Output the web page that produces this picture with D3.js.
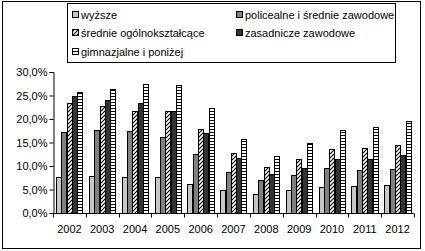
<!DOCTYPE html>
<html>
<head>
<meta charset="utf-8">
<script src="https://d3js.org/d3.v7.min.js"></script>
<style>
 body { margin: 0; background: white; }
 text { font-family: "Liberation Sans", Arial, sans-serif; font-size: 11px; fill: #000; }
</style>
</head>
<body>
<script>
// chart values
var years = ["2002","2003","2004","2005","2006","2007","2008","2009","2010","2011","2012"];
var seriesNames = ["wyższe", "policealne i średnie zawodowe", "średnie ogólnokształcące",
                   "zasadnicze zawodowe", "gimnazjalne i poniżej"];
var wyzsze      = [7.6, 7.9, 7.6, 7.6, 6.2, 5.0, 4.1, 4.8, 5.5, 5.7, 5.9];
var policealne  = [17.3, 17.7, 17.5, 16.2, 12.6, 8.8, 7.1, 8.0, 9.5, 9.1, 9.3];
var ogolne      = [23.5, 22.8, 21.8, 21.6, 17.9, 12.8, 9.7, 11.4, 13.7, 13.9, 14.5];
var zasadnicze  = [24.8, 24.1, 23.3, 21.8, 17.1, 11.8, 8.2, 9.5, 11.5, 11.5, 12.3];
var gimnazjalne = [25.7, 26.4, 27.5, 27.2, 22.4, 15.8, 12.2, 15.0, 17.7, 18.4, 19.6];
var yTicks = [0, 5, 10, 15, 20, 25, 30];

var series = [wyzsze, policealne, ogolne, zasadnicze, gimnazjalne];
var fills = ["#c6c6c6", "#808080", "url(#diag)", "#333333", "url(#hstripe)"];

var width = 425, height = 251;
var svg = d3.select("body").append("svg")
  .attr("width", width).attr("height", height);

var defs = svg.append("defs");
var diag = defs.append("pattern").attr("id", "diag")
  .attr("patternUnits", "userSpaceOnUse").attr("width", 4).attr("height", 4);
diag.append("rect").attr("width", 4).attr("height", 4).attr("fill", "white");
diag.append("path").attr("d", "M-1,1 l2,-2 M0,4 l4,-4 M3,5 l2,-2")
  .attr("stroke", "black").attr("stroke-width", 1.1);
var hs = defs.append("pattern").attr("id", "hstripe")
  .attr("patternUnits", "userSpaceOnUse").attr("width", 4).attr("height", 3);
hs.append("rect").attr("width", 4).attr("height", 3).attr("fill", "white");
hs.append("rect").attr("y", 0).attr("width", 4).attr("height", 1).attr("fill", "black");

// outer frame
svg.append("rect").attr("x", 2.5).attr("y", 1.5).attr("width", 418).attr("height", 247)
  .attr("fill", "white").attr("stroke", "black");

var x = d3.scaleBand().domain(years).range([53, 414]).paddingInner(0.19).paddingOuter(0.095);
var xs = d3.scaleBand().domain(d3.range(5)).range([0, x.bandwidth()]);
var y = d3.scaleLinear().domain([0, 30]).range([213, 72]);

// bars
series.forEach(function(vals, i) {
  svg.append("g").selectAll("rect")
    .data(vals).enter().append("rect")
    .attr("x", function(d, j) { return Math.round(x(years[j]) + xs(i)) + 0.5; })
    .attr("y", function(d) { return Math.round(y(d)) + 0.5; })
    .attr("width", Math.round(xs.bandwidth()) )
    .attr("height", function(d) { return Math.round(y(0)) - Math.round(y(d)); })
    .attr("fill", fills[i])
    .attr("stroke", "black")
    .attr("stroke-width", 1);
});

// y axis
var yAxis = svg.append("g").attr("transform", "translate(53.5,0)")
  .call(d3.axisLeft(y).tickValues(yTicks).tickSize(4)
    .tickFormat(function(d) { return d.toFixed(1).replace(".", ",") + "%"; }));
yAxis.select(".domain").attr("stroke", "black");
yAxis.selectAll("text").attr("x", -6).attr("dy", "0.35em");

// x axis with ticks at category boundaries
var xg = svg.append("g").attr("transform", "translate(0," + (Math.round(y(0)) + 0.5) + ")");
xg.append("line").attr("x1", 53).attr("x2", 414).attr("stroke", "black");
var step = x.step();
xg.selectAll("line.tk").data(d3.range(years.length + 1)).enter().append("line")
  .attr("class", "tk")
  .attr("x1", function(i) { return Math.round(53 + i * step) + 0.5; })
  .attr("x2", function(i) { return Math.round(53 + i * step) + 0.5; })
  .attr("y1", 0).attr("y2", 4).attr("stroke", "black");
xg.selectAll("text").data(years).enter().append("text")
  .attr("x", function(d) { return x(d) + x.bandwidth() / 2; })
  .attr("y", 19)
  .attr("text-anchor", "middle")
  .text(function(d) { return d; });

// legend
var lg = svg.append("g");
lg.append("rect").attr("x", 67.5).attr("y", 3.5).attr("width", 328).attr("height", 59)
  .attr("fill", "white").attr("stroke", "black");
var legPos = [[72, 15], [236, 15], [72, 33], [236, 33], [72, 52]];
seriesNames.forEach(function(name, i) {
  var p = legPos[i];
  lg.append("rect").attr("x", p[0] + 0.5).attr("y", p[1] - 3.5).attr("width", 6).attr("height", 6)
    .attr("fill", fills[i]).attr("stroke", "black");
  lg.append("text").attr("x", p[0] + 9).attr("y", p[1]).attr("dy", "0.35em").text(name);
});
</script>
</body>
</html>
